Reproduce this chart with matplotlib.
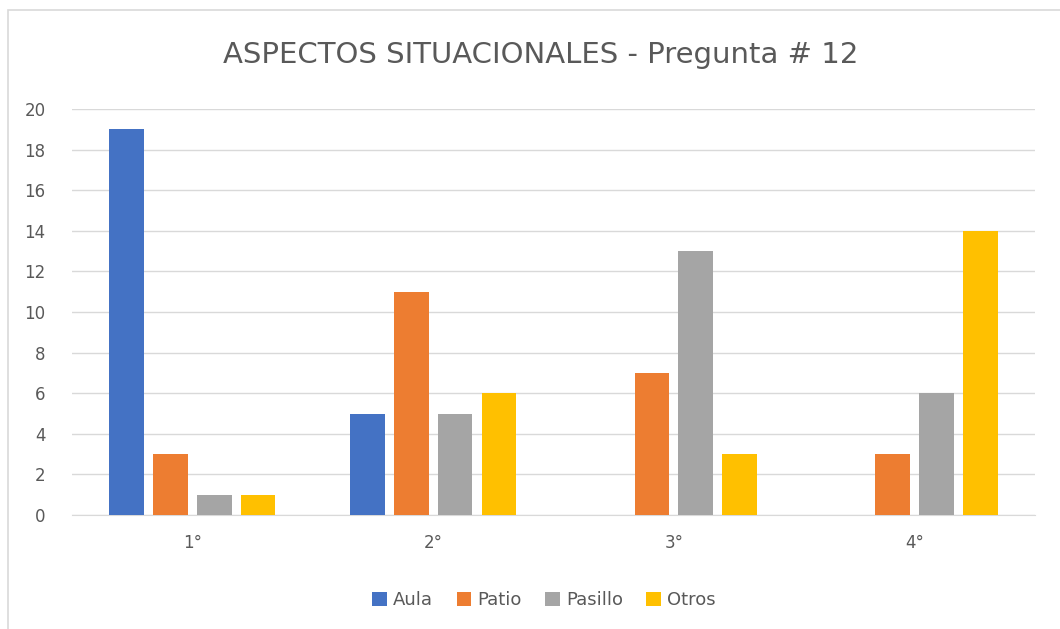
import numpy as np
import matplotlib
matplotlib.use("Agg")
import matplotlib.pyplot as plt
from matplotlib.patches import Rectangle

plt.rcParams['font.family'] = ['Liberation Sans Narrow', 'DejaVu Sans']

categories = ['1°', '2°', '3°', '4°']
series = ['Aula', 'Patio', 'Pasillo', 'Otros']
aula = [19, 5, 0, 0]
patio = [3, 11, 7, 3]
pasillo = [1, 5, 13, 6]
otros = [1, 6, 3, 14]
colors = ['#4472C4', '#ED7D31', '#A5A5A5', '#FFC000']

fig = plt.figure(figsize=(10.6, 6.29), dpi=100)
fig.patches.append(Rectangle((8 / 1060, -0.1), 1.2, (629 - 10) / 629 + 0.1,
                             transform=fig.transFigure, fill=False,
                             edgecolor='#d9d9d9', linewidth=1.2))
ax = fig.add_axes([72 / 1060, 1 - 515 / 629, (1035 - 72) / 1060, (515 - 109) / 629])

x = np.arange(len(categories))
w = 0.144
step = 0.182
for i, (vals, name) in enumerate(zip([aula, patio, pasillo, otros], series)):
    ax.bar(x + (i - 1.5) * step, vals, width=w, color=colors[i], label=name, zorder=3)

ax.set_xlim(-0.5, 3.5)
ax.set_ylim(0, 20)
ax.set_yticks(range(0, 21, 2))
ax.set_xticks(x)
ax.set_xticklabels(categories)
ax.grid(axis='y', color='#d9d9d9', linewidth=1, zorder=0)
for s in ['top', 'right', 'left']:
    ax.spines[s].set_visible(False)
ax.spines['bottom'].set_color('#d9d9d9')
ax.tick_params(length=0, colors='#595959', labelsize=12)
ax.tick_params(axis='x', pad=14)
ax.tick_params(axis='y', pad=19)

fig.text(541 / 1060, 1 - 55 / 629, 'ASPECTOS SITUACIONALES - Pregunta # 12', ha='center', va='center',
         fontsize=21, color='#595959')
fig.legend(loc='center', bbox_to_anchor=(544 / 1060, 1 - 600 / 629), ncol=4, frameon=False,
           fontsize=13, labelcolor='#595959', handlelength=0.8, handleheight=0.8,
           handletextpad=0.35, columnspacing=1.3)

fig.savefig('out.png', dpi=100, facecolor='white')
